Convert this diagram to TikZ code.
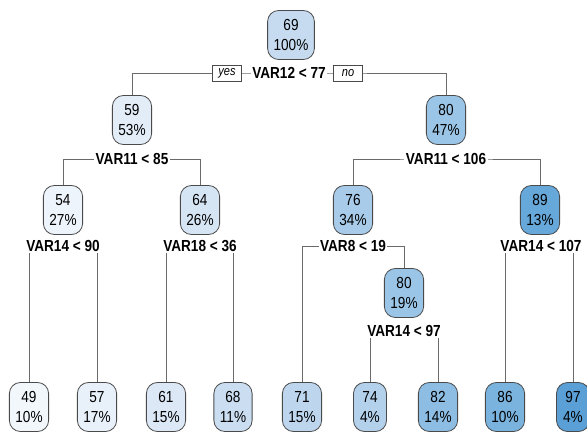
\documentclass[tikz,border=0pt]{standalone}
\usepackage{fontspec}
\setmainfont{Liberation Sans}[FakeStretch=0.85]
\usetikzlibrary{backgrounds}

% fill shades for the fitted values, light to dark
\definecolor{c49}{HTML}{F2F7FC}
\definecolor{c54}{HTML}{EEF4FB}
\definecolor{c57}{HTML}{E8F0F9}
\definecolor{c59}{HTML}{E3EDF8}
\definecolor{c61}{HTML}{DCE8F5}
\definecolor{c64}{HTML}{D6E5F4}
\definecolor{c68}{HTML}{CADDF1}
\definecolor{c69}{HTML}{C6DBEF}
\definecolor{c71}{HTML}{BDD6EE}
\definecolor{c74}{HTML}{B4D1EC}
\definecolor{c76}{HTML}{A8CBE9}
\definecolor{c80}{HTML}{9BC5E6}
\definecolor{c82}{HTML}{8DBDE3}
\definecolor{c86}{HTML}{7AB3DE}
\definecolor{c89}{HTML}{66A8DA}
\definecolor{c97}{HTML}{5A9FD5}
\definecolor{boxgray}{HTML}{4A4A4A}
\definecolor{linegray}{HTML}{6A6A6A}

\tikzset{
  tnode/.style={draw=boxgray, line width=0.8pt, rounded corners=11pt,
    align=center, inner xsep=6pt, inner ysep=4pt,
    minimum height=49pt, minimum width=33pt,
    font=\fontsize{16}{20}\selectfont},
  splitlab/.style={fill=white, inner xsep=1.5pt, inner ysep=1pt,
    font=\fontsize{16}{19}\selectfont\bfseries},
  yesno/.style={draw=boxgray, fill=white, line width=0.6pt,
    inner xsep=4pt, inner ysep=1pt, minimum height=16pt, minimum width=29pt,
    font=\fontsize{13}{15}\selectfont\itshape},
  conn/.style={draw=linegray, line width=0.9pt},
}

\begin{document}
\begin{tikzpicture}[x=1pt, y=-1pt]
  \useasboundingbox (0,0) rectangle (587,434);

  % internal nodes
  \node[tnode, fill=c69] (n1) at (291,35) {69\\100\%};
  \node[tnode, fill=c59] (n2) at (132,120) {59\\53\%};
  \node[tnode, fill=c80] (n3) at (446,120) {80\\47\%};
  \node[tnode, fill=c54] (n4) at (63,210) {54\\27\%};
  \node[tnode, fill=c64] (n5) at (200,210) {64\\26\%};
  \node[tnode, fill=c76] (n6) at (353,210) {76\\34\%};
  \node[tnode, fill=c89] (n7) at (540,210) {89\\13\%};
  \node[tnode, fill=c80] (n13) at (404,293) {80\\19\%};

  % leaves
  \node[tnode, fill=c49] (l1) at (29,407) {49\\10\%};
  \node[tnode, fill=c57] (l2) at (97,407) {57\\17\%};
  \node[tnode, fill=c61] (l3) at (166,407) {61\\15\%};
  \node[tnode, fill=c68] (l4) at (233,407) {68\\11\%};
  \node[tnode, fill=c71] (l5) at (302,407) {71\\15\%};
  \node[tnode, fill=c74] (l6) at (370,407) {74\\4\%};
  \node[tnode, fill=c82] (l7) at (438,407) {82\\14\%};
  \node[tnode, fill=c86] (l8) at (505,407) {86\\10\%};
  \node[tnode, fill=c97] (l9) at (573,407) {97\\4\%};

  % split labels
  \node[splitlab] (s1) at (289,73) {VAR12 < 77};
  \node[yesno] (yes) at (227,73) {yes};
  \node[yesno] (no) at (348,73) {no};
  \node[splitlab] (s2) at (132,159) {VAR11 < 85};
  \node[splitlab] (s3) at (446,159) {VAR11 < 106};
  \node[splitlab] (s4) at (63,246) {VAR14 < 90};
  \node[splitlab] (s5) at (200,246) {VAR18 < 36};
  \node[splitlab] (s6) at (353,246) {VAR8 < 19};
  \node[splitlab] (s7) at (541,246) {VAR14 < 107};
  \node[splitlab] (s13) at (404,331) {VAR14 < 97};

  % white page, then the branches, all behind the boxes and labels
  \begin{scope}[on background layer]
    \fill[white] (0,0) rectangle (587,434);
    \draw[conn] (n2.north) |- (s1.center) -| (n3.north);
    \draw[conn] (n4.north) |- (s2.center) -| (n5.north);
    \draw[conn] (n6.north) |- (s3.center) -| (n7.north);
    \draw[conn] (l1.north) |- (s4.center) -| (l2.north);
    \draw[conn] (l3.north) |- (s5.center) -| (l4.north);
    \draw[conn] (l5.north) |- (s6.center) -| (n13.north);
    \draw[conn] (l8.north) |- (s7.center) -| (l9.north);
    \draw[conn] (l6.north) |- (s13.center) -| (l7.north);
  \end{scope}
\end{tikzpicture}
\end{document}
